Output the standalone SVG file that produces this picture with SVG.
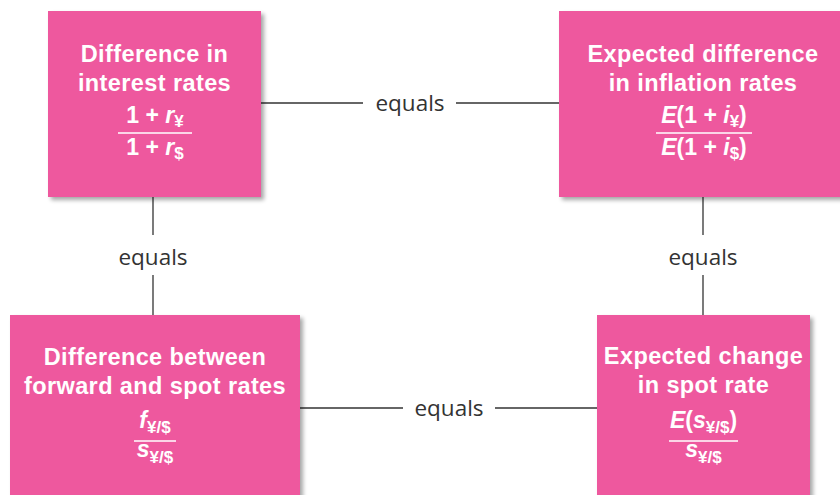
<svg xmlns="http://www.w3.org/2000/svg" width="840" height="495" viewBox="0 0 840 495">
<defs>
<filter id="sh" x="-10%" y="-10%" width="130%" height="130%">
<feGaussianBlur in="SourceAlpha" stdDeviation="2"/>
<feOffset dx="3" dy="3" result="b"/>
<feComponentTransfer><feFuncA type="linear" slope="0.35"/></feComponentTransfer>
<feMerge><feMergeNode/><feMergeNode in="SourceGraphic"/></feMerge>
</filter>
</defs>
<style>
.box{fill:#EE589E;filter:url(#sh)}
.t{font-family:"Liberation Sans",Arial,sans-serif;font-weight:bold;font-size:23.5px;letter-spacing:0.4px;fill:#fff;text-anchor:middle}
.f{font-family:"Liberation Sans",Arial,sans-serif;font-weight:bold;font-size:23px;fill:#fff;text-anchor:middle}
.i{font-style:italic}
.sub{font-size:17px}
.fl{stroke:#fff;stroke-width:1.5}
.c{stroke:#333;stroke-width:1.3;fill:none}
.eq{font-family:"Open Sans","Liberation Sans",sans-serif;font-size:22.5px;fill:#333;text-anchor:middle}
</style>
<rect width="840" height="495" fill="#fff"/>
<g id="connectors">
<line class="c" x1="261" y1="103" x2="363" y2="103"/>
<line class="c" x1="456" y1="103" x2="559" y2="103"/>
<text class="eq" x="410" y="111">equals</text>
<line class="c" x1="153" y1="197" x2="153" y2="235"/>
<line class="c" x1="153" y1="275" x2="153" y2="315"/>
<text class="eq" x="153" y="265">equals</text>
<line class="c" x1="703" y1="197" x2="703" y2="235"/>
<line class="c" x1="703" y1="275" x2="703" y2="315"/>
<text class="eq" x="703" y="265">equals</text>
<line class="c" x1="300" y1="408" x2="403" y2="408"/>
<line class="c" x1="495" y1="408" x2="597" y2="408"/>
<text class="eq" x="449" y="416">equals</text>
</g>
<g id="interest">
<rect class="box" x="48" y="11" width="213" height="186"/>
<text class="t" x="154.5" y="62">Difference in</text>
<text class="t" x="154.5" y="91">interest rates</text>
<text class="f" x="155" y="123">1 + <tspan class="i">r</tspan><tspan class="sub" dy="4">¥</tspan></text>
<line class="fl" x1="118" y1="133" x2="192" y2="133"/>
<text class="f" x="155" y="155">1 + <tspan class="i">r</tspan><tspan class="sub" dy="4">$</tspan></text>
</g>
<g id="inflation">
<rect class="box" x="559" y="11" width="290" height="186"/>
<text class="t" x="703" y="62">Expected difference</text>
<text class="t" x="703" y="91">in inflation rates</text>
<text class="f" x="704" y="123"><tspan class="i">E</tspan>(1 + <tspan class="i">i</tspan><tspan class="sub" dy="4">¥</tspan><tspan dy="-4">)</tspan></text>
<line class="fl" x1="656" y1="133" x2="752" y2="133"/>
<text class="f" x="704" y="155"><tspan class="i">E</tspan>(1 + <tspan class="i">i</tspan><tspan class="sub" dy="4">$</tspan><tspan dy="-4">)</tspan></text>
</g>
<g id="forward">
<rect class="box" x="10" y="315" width="290" height="190"/>
<text class="t" x="155" y="365">Difference between</text>
<text class="t" x="155" y="394">forward and spot rates</text>
<text class="f" x="155" y="428"><tspan class="i">f</tspan><tspan class="sub" dy="5">¥/$</tspan></text>
<line class="fl" x1="134" y1="441" x2="176" y2="441"/>
<text class="f" x="155" y="457"><tspan class="i">s</tspan><tspan class="sub" dy="6">¥/$</tspan></text>
</g>
<g id="spot">
<rect class="box" x="597" y="315" width="213" height="190"/>
<text class="t" x="703.5" y="364">Expected change</text>
<text class="t" x="703.5" y="393">in spot rate</text>
<text class="f" x="703.5" y="428"><tspan class="i">E</tspan>(<tspan class="i">s</tspan><tspan class="sub" dy="5">¥/$</tspan><tspan dy="-5">)</tspan></text>
<line class="fl" x1="669" y1="441" x2="738" y2="441"/>
<text class="f" x="703.5" y="457"><tspan class="i">s</tspan><tspan class="sub" dy="6">¥/$</tspan></text>
</g>
</svg>
